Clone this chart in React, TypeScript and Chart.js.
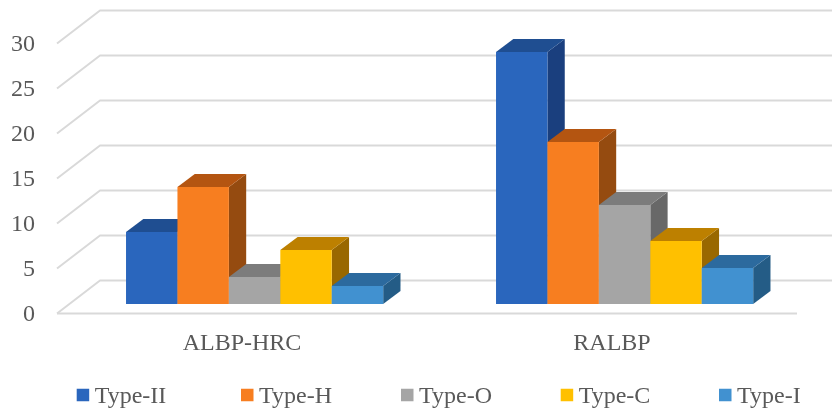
import React, { useEffect, useRef } from "react";
import { Chart, registerables } from "chart.js";

Chart.register(...registerables);

const categories = ["ALBP-HRC", "RALBP"];
const seriesNames = ["Type-II", "Type-H", "Type-O", "Type-C", "Type-I"];
const typeII = [8, 28];
const typeH = [13, 18];
const typeO = [3, 11];
const typeC = [6, 7];
const typeI = [2, 4];
const seriesValues = [typeII, typeH, typeO, typeC, typeI];
const frontColors = ["#2A66BD", "#F77E20", "#A5A5A5", "#FFC000", "#4191D0"];
const topColors = ["#1F4E91", "#B45511", "#7C7C7C", "#BD8000", "#2C6A9E"];
const sideColors = ["#1A3F7E", "#954B10", "#686868", "#996800", "#245C86"];

const FONT = '"Liberation Serif", "Times New Roman", serif';
const TEXT = "#595959";
const GRID = "#D9D9D9";

// the tick digits sit slightly above the line they name, so the scale runs 1px lower than the grid
const labelDrop = 1;
const wallDx = 43;
const wallDy = 33;
const barShiftX = 12.6;
const barShiftY = 9.5 + labelDrop;
const barDepthX = 17.3;
const barDepthY = 13;
const legendBoxX = [76.7, 241, 401, 560.7, 719];
const legendTextGap = 5.5;
const legendBox = 12.5;
const legendBoxY = 395;
const legendTextY = 396.5;

function quad(ctx: CanvasRenderingContext2D, pts: number[][], fill: string) {
  ctx.fillStyle = fill;
  ctx.beginPath();
  pts.forEach((p, i) => (i ? ctx.lineTo(p[0], p[1]) : ctx.moveTo(p[0], p[1])));
  ctx.closePath();
  ctx.fill();
}

const scene3d = {
  id: "scene3d",
  beforeDatasetsDraw(chart: any) {
    const ctx: CanvasRenderingContext2D = chart.ctx;
    const { left, right, bottom } = chart.chartArea;
    const yScale = chart.scales.y;

    ctx.save();
    ctx.strokeStyle = GRID;
    ctx.lineWidth = 2;
    ctx.lineJoin = "round";
    yScale.ticks.forEach((t: any) => {
      const y = yScale.getPixelForValue(t.value) - labelDrop;
      ctx.beginPath();
      ctx.moveTo(left, y);
      ctx.lineTo(left + wallDx, y - wallDy);
      ctx.lineTo(right + wallDx, y - wallDy);
      ctx.stroke();
    });
    ctx.beginPath();
    ctx.moveTo(left, bottom - labelDrop);
    ctx.lineTo(right, bottom - labelDrop);
    ctx.stroke();
    ctx.restore();

    ctx.save();
    ctx.translate(barShiftX, -barShiftY);
    categories.forEach((_, c) => {
      seriesNames.forEach((_, s) => {
        const bar: any = chart.getDatasetMeta(s).data[c];
        const x0 = bar.x - bar.width / 2;
        const x1 = bar.x + bar.width / 2;
        const y0 = bar.y;
        const y1 = bar.base;
        quad(ctx, [[x1, y0], [x1 + barDepthX, y0 - barDepthY], [x1 + barDepthX, y1 - barDepthY], [x1, y1]], sideColors[s]);
        quad(ctx, [[x0, y0], [x0 + barDepthX, y0 - barDepthY], [x1 + barDepthX, y0 - barDepthY], [x1, y0]], topColors[s]);
        quad(ctx, [[x0, y0], [x1, y0], [x1, y1], [x0, y1]], frontColors[s]);
      });
    });
    ctx.restore();
    return false;
  },
  afterDraw(chart: any) {
    const ctx: CanvasRenderingContext2D = chart.ctx;
    ctx.save();
    ctx.font = `24px ${FONT}`;
    ctx.textBaseline = "middle";
    ctx.textAlign = "left";
    chart.data.datasets.forEach((ds: any, i: number) => {
      const x = legendBoxX[i];
      ctx.fillStyle = frontColors[i];
      ctx.fillRect(x, legendBoxY - legendBox / 2, legendBox, legendBox);
      ctx.fillStyle = TEXT;
      ctx.fillText(ds.label, x + legendBox + legendTextGap, legendTextY);
    });
    ctx.restore();
  },
};

export default function App() {
  const ref = useRef<HTMLCanvasElement>(null);
  useEffect(() => {
    const chart = new Chart(ref.current as HTMLCanvasElement, {
      type: "bar",
      data: {
        labels: categories,
        datasets: seriesNames.map((label, i) => ({
          label,
          data: seriesValues[i],
          backgroundColor: frontColors[i],
          categoryPercentage: 0.695,
          barPercentage: 1,
        })),
      },
      options: {
        responsive: false,
        animation: false,
        layout: { padding: { top: 43.5 + labelDrop, right: 35, left: 0, bottom: 0 } },
        plugins: { legend: { display: false }, tooltip: { enabled: false } },
        scales: {
          x: {
            grid: { display: false, drawTicks: false },
            border: { display: false },
            ticks: { color: TEXT, font: { family: FONT, size: 24 }, padding: 15, maxRotation: 0 },
            afterFit: (s: any) => { s.height = 100.5 - labelDrop; },
          },
          y: {
            min: 0,
            max: 30,
            grid: { display: false, drawTicks: false },
            border: { display: false },
            ticks: { stepSize: 5, color: TEXT, font: { family: FONT, size: 24 }, padding: 22 },
            afterFit: (s: any) => { s.width = 57; },
          },
        },
      },
      plugins: [scene3d],
    } as any);
    return () => chart.destroy();
  }, []);
  return (
    <div style={{ position: "absolute", left: 0, top: 0, width: 832, height: 414, background: "#fff" }}>
      <canvas ref={ref} width={832} height={414} style={{ display: "block" }} />
    </div>
  );
}
